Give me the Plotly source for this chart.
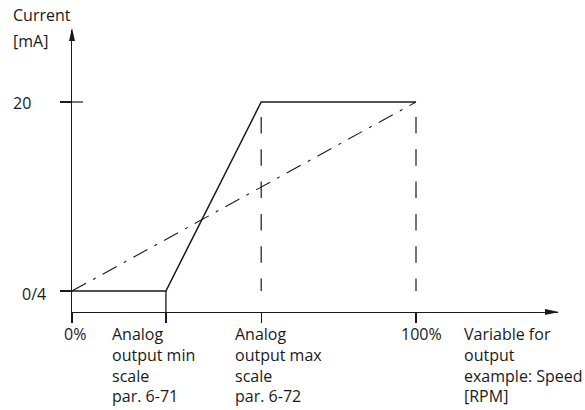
import plotly.graph_objects as go

# ---------------- data ----------------
output_x = [0, 27.3, 55, 100]          # % of output variable
output_current = [4, 4, 20, 20]        # mA
linear_x = [0, 100]
linear_current = [4, 20]
marker_x = [55, 100]                   # dashed reference verticals
marker_top = [20, 20]
marker_bottom = [4, 4]
min_scale_x = 27.3
y_tick_vals = [4, 20]
y_tick_text = ["0/4", "20"]
x_tick_vals = [0, 27.3, 55, 100]
x_tick_text = ["0%", "Analog<br>output min<br>scale<br>par. 6-71",
               "Analog<br>output max<br>scale<br>par. 6-72", "100%"]
x_title = "Variable for<br>output<br>example: Speed<br>[RPM]"
y_title = ["Current", "[mA]"]

# ---------------- layout geometry ----------------
W, H = 585, 410
L, R, T, B = 72, 27, 30, 98
X_RANGE = [0, 141.28]
Y_RANGE = [2.222, 26.095]
INK = "#1a1a1a"
FONT = dict(family="Open Sans", size=16, color=INK)

fig = go.Figure()

# dash-dot linear reference
fig.add_trace(go.Scatter(x=linear_x, y=linear_current, mode="lines",
                         line=dict(color=INK, width=1.1, dash="16px,8px,3px,8px"),
                         hoverinfo="skip", showlegend=False))

# dashed verticals
vdash = "0px,15px,16.5px,15.8px,16.5px,15.8px,16.5px,15.8px,16.5px,15.8px,16.5px,15.8px,16.5px,40px"
for xv, yt, yb in zip(marker_x, marker_top, marker_bottom):
    fig.add_trace(go.Scatter(x=[xv, xv], y=[yt, yb], mode="lines",
                             line=dict(color=INK, width=1.2, dash=vdash),
                             hoverinfo="skip", showlegend=False))

# solid output curve
fig.add_trace(go.Scatter(x=output_x, y=output_current, mode="lines",
                         line=dict(color=INK, width=1.5),
                         hoverinfo="skip", showlegend=False))

shapes = []
# drop line from min scale point to x axis
shapes.append(dict(type="line", xref="x", yref="y", x0=min_scale_x, x1=min_scale_x,
                   y0=Y_RANGE[0], y1=output_current[1], line=dict(color=INK, width=1.3)))
# inner half of the 20 mA tick
shapes.append(dict(type="line", xref="x", yref="y", xsizemode="pixel", xanchor=0,
                   x0=0, x1=11, y0=y_tick_vals[1], y1=y_tick_vals[1],
                   line=dict(color=INK, width=1.2)))
# arrowheads
shapes.append(dict(type="path", xref="x domain", yref="y domain",
                   xsizemode="pixel", ysizemode="pixel", xanchor=1, yanchor=0,
                   path="M1,0 L-13,3 L-13,-3 Z", fillcolor=INK, line=dict(width=0)))
shapes.append(dict(type="path", xref="x domain", yref="y domain",
                   xsizemode="pixel", ysizemode="pixel", xanchor=0, yanchor=1,
                   path="M0,2 L-3,-11 L3,-11 Z", fillcolor=INK, line=dict(width=0)))

ann = []
# y tick labels
ann.append(dict(x=0, y=y_tick_vals[1], xref="x", yref="y", text=y_tick_text[1],
                xanchor="right", yanchor="middle", xshift=-39, yshift=-1, showarrow=False))
ann.append(dict(x=0, y=y_tick_vals[0], xref="x", yref="y", text=y_tick_text[0],
                xanchor="right", yanchor="middle", xshift=-24, yshift=-3, showarrow=False))
# x tick labels
xl_shift = [3, -56, -28, 5]
xl_anchor = ["center", "left", "left", "center"]
for xv, txt, sh, an in zip(x_tick_vals, x_tick_text, xl_shift, xl_anchor):
    ann.append(dict(x=xv, y=0, xref="x", yref="y domain", text=txt, xanchor=an,
                    yanchor="top", align="left", xshift=sh, yshift=-9, showarrow=False))
# axis titles
ann.append(dict(x=x_tick_vals[3], y=0, xref="x", yref="y domain", text=x_title,
                xanchor="left", yanchor="top", align="left", xshift=46, yshift=-9,
                showarrow=False))
ann.append(dict(x=0, y=1, xref="x", yref="y domain", text=y_title[0],
                xanchor="left", yanchor="middle", xshift=-61, yshift=15, showarrow=False))
ann.append(dict(x=0, y=1, xref="x", yref="y domain", text=y_title[1],
                xanchor="left", yanchor="middle", xshift=-61, yshift=-11, showarrow=False))

fig.update_layout(
    width=W, height=H, margin=dict(l=L, r=R, t=T, b=B),
    paper_bgcolor="white", plot_bgcolor="white",
    font=FONT, showlegend=False, hovermode=False,
    shapes=shapes, annotations=ann,
    xaxis=dict(range=X_RANGE, showgrid=False, zeroline=False, showline=True,
               linecolor=INK, linewidth=1.3, ticks="outside", tickvals=x_tick_vals,
               ticklen=10, tickwidth=1.3, tickcolor=INK, showticklabels=False,
               fixedrange=True),
    yaxis=dict(range=Y_RANGE, showgrid=False, zeroline=False, showline=True,
               linecolor=INK, linewidth=1.3, ticks="outside", tickvals=y_tick_vals,
               ticklen=11, tickwidth=1.2, tickcolor=INK, showticklabels=False,
               fixedrange=True),
)

fig.write_html("out.html", config={"displayModeBar": False, "staticPlot": True},
               post_script="document.body.style.margin='0';document.body.style.padding='0';")
